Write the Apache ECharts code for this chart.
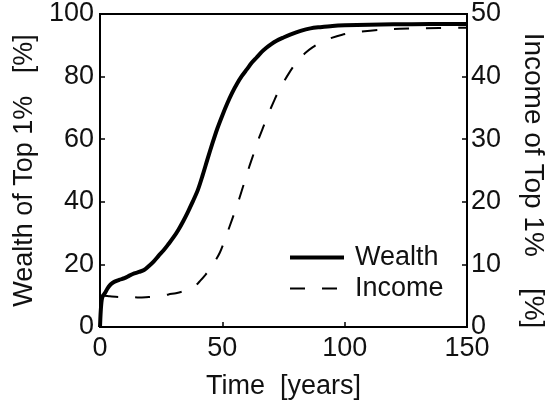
<!DOCTYPE html>
<html>
<head>
<meta charset="utf-8">
<script src="https://cdn.jsdelivr.net/npm/echarts@6/dist/echarts.min.js"></script>
<style>
html,body{margin:0;padding:0;background:#fff;}
#chart{width:546px;height:408px;}
</style>
</head>
<body>
<div id="chart"></div>
<script>
// Time (years) and values
const wealthTime = [0,0.3,0.7,1.2,2,3,4,5,6,8,10,12,14,16,18,20,22,24,26,28,30,32,34,36,38,40,42,44,46,48,50,52,54,56,58,60,62,64,66,68,70,72,75,78,82,86,90,95,100,110,120,135,150];
const wealthValues = [0,5,8.6,10,10.8,12.2,13.3,14,14.5,15.1,15.6,16.4,17.1,17.6,18.2,19.5,21,22.8,24.5,26.5,28.6,31,33.8,36.9,40.2,43.8,48.6,53.8,58.8,63.5,67.6,71.4,74.8,77.7,80.2,82.3,84.4,86.1,87.8,89.2,90.4,91.4,92.5,93.5,94.6,95.4,95.8,96.2,96.4,96.6,96.7,96.8,96.8];
const incomeTime = [0,0.3,0.7,1.5,4,8,12,16,20,24,26,28,31,34,37,39,41,43,45,47,49,51,53,55,57,59,61,63,65,67,69,71,73,75,77,79,81,84,87,90,94,99,105,115,130,150];
const incomeValues = [0,3,4.8,5,4.9,4.8,4.8,4.7,4.8,4.9,5,5.2,5.4,5.7,6.2,6.6,7.4,8.3,9.3,10.5,11.9,13.9,16.1,18.3,20.6,23.1,25.6,27.9,30.2,32.2,34.2,36,37.7,39.1,40.4,41.6,42.6,43.8,44.7,45.4,46.1,46.7,47.1,47.5,47.7,47.8];
const xTicks = [0,50,100,150];
const leftTicks = [0,20,40,60,80,100];
const rightTicks = [0,10,20,30,40,50];
const seriesNames = ['Wealth','Income'];
const xTitle = 'Time  [years]';
const leftTitle = 'Wealth of Top 1%   [%]';
const rightTitle = 'Income of Top 1%    [%]';

const FONT = '"Liberation Sans", Arial, sans-serif';
const FS = 27;
const chart = echarts.init(document.getElementById('chart'), null, {renderer:'canvas'});
const axisCommon = {
  axisLine:{show:true, onZero:false, lineStyle:{color:'#000', width:2}},
  axisTick:{show:true, inside:true, length:5, lineStyle:{color:'#000', width:1.5}},
  splitLine:{show:false},
  axisLabel:{color:'#111', fontSize:FS, fontFamily:FONT},
  nameTextStyle:{color:'#111', fontSize:FS, fontFamily:FONT}
};
const option = {
  animation:false,
  backgroundColor:'#fff',
  grid:{left:100, right:79, top:14, bottom:81, show:true, borderColor:'#000', borderWidth:2,
        containLabel:false, outerBoundsMode:'none'},
  legend:{
    show:true, left:288, top:244, orient:'vertical', itemGap:4, padding:0,
    itemWidth:54, itemHeight:14,
    itemStyle:{opacity:0},
    textStyle:{color:'#111', fontSize:FS, fontFamily:FONT, padding:[0,0,0,6]},
    data:[
      {name:seriesNames[0], lineStyle:{width:4, color:'#000'}},
      {name:seriesNames[1], lineStyle:{width:2, color:'#000'}}
    ]
  },
  xAxis:Object.assign({}, axisCommon, {
    type:'value', min:0, max:150, interval:50,
    name:xTitle, nameLocation:'middle', nameGap:46,
    axisLabel:Object.assign({}, axisCommon.axisLabel, {margin:8, formatter:v=>xTicks.includes(v)?String(v):''})
  }),
  yAxis:[
    Object.assign({}, axisCommon, {
      type:'value', min:0, max:100, interval:20, position:'left',
      name:leftTitle, nameLocation:'middle', nameRotate:90, nameGap:62,
      axisLabel:Object.assign({}, axisCommon.axisLabel, {margin:6, formatter:v=>leftTicks.includes(v)?String(v):''})
    }),
    Object.assign({}, axisCommon, {
      type:'value', min:0, max:50, interval:10, position:'right',
      name:rightTitle, nameLocation:'middle', nameRotate:-90, nameGap:52,
      nameTextStyle:{color:'#111', fontSize:28, fontFamily:FONT, padding:[0,0,0,20]},
      axisLabel:Object.assign({}, axisCommon.axisLabel, {margin:4, formatter:v=>rightTicks.includes(v)?String(v):''})
    })
  ],
  series:[
    {
      name:seriesNames[0], type:'line', yAxisIndex:0, showSymbol:false, symbol:'none', smooth:0.3,
      data:wealthTime.map((t,i)=>[t, wealthValues[i]]),
      lineStyle:{color:'#000', width:4, type:'solid'}, itemStyle:{color:'#000'}
    },
    {
      name:seriesNames[1], type:'line', yAxisIndex:1, showSymbol:false, symbol:'none', smooth:0.3,
      data:incomeTime.map((t,i)=>[t, incomeValues[i]]),
      lineStyle:{color:'#000', width:2, type:[15,17]}, itemStyle:{color:'#000'}
    }
  ]
};
chart.setOption(option);
</script>
</body>
</html>
